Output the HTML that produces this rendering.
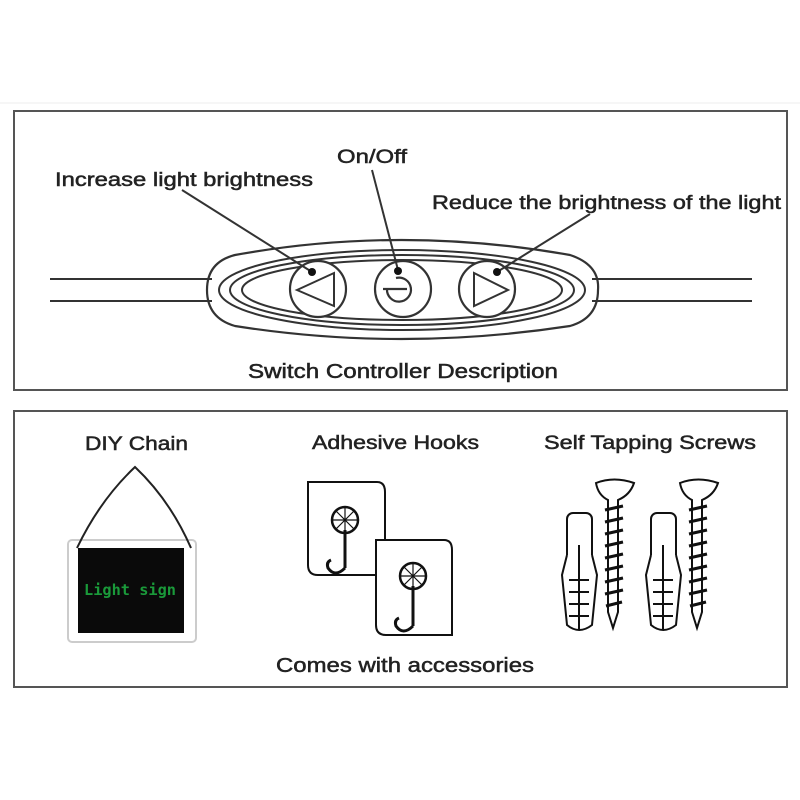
<!DOCTYPE html>
<html><head><meta charset="utf-8"><style>
html,body{margin:0;padding:0;background:#fff;}
svg{display:block}
text{font-family:"Liberation Sans",sans-serif;fill:#222;stroke:#222;stroke-width:0.5;}
</style></head><body>
<svg width="800" height="800" viewBox="0 0 800 800" xmlns="http://www.w3.org/2000/svg">
<rect x="0" y="0" width="800" height="800" fill="#fff"/>
<line x1="0" y1="103" x2="800" y2="103" stroke="#eee" stroke-width="1"/>
<rect x="14" y="111" width="773" height="279" fill="none" stroke="#555" stroke-width="2"/>
<g stroke="#333" stroke-width="2" fill="none">
<line x1="50" y1="279" x2="212" y2="279"/>
<line x1="50" y1="301" x2="212" y2="301"/>
<line x1="592" y1="279" x2="752" y2="279"/>
<line x1="592" y1="301" x2="752" y2="301"/>
<path d="M235,255 Q400,225 570,255 Q600,265 598,290 Q598,318 570,326 Q400,352 235,326 Q207,318 207,290 Q207,262 235,255 Z" stroke-width="2.2"/>
<ellipse cx="402" cy="290" rx="183" ry="40" stroke-width="2"/>
<ellipse cx="402" cy="290" rx="172" ry="35" stroke-width="2"/>
<ellipse cx="402" cy="290" rx="160" ry="30" stroke-width="2"/>
<circle cx="318" cy="289" r="28" fill="#fff" stroke-width="2.2"/>
<circle cx="403" cy="289" r="28" fill="#fff" stroke-width="2.2"/>
<circle cx="487" cy="289" r="28" fill="#fff" stroke-width="2.2"/>
<polygon points="297,290 334,273 334,306" stroke-width="2"/>
<polygon points="474,273 474,306 508,290" stroke-width="2"/>
<path d="M396,278 A12,12 0 1 1 387,289" stroke-width="2.2"/>
<line x1="383" y1="289" x2="407" y2="289" stroke-width="2.2"/>
<line x1="182" y1="190" x2="312" y2="272" stroke-width="2"/>
<line x1="372" y1="170" x2="398" y2="270" stroke-width="2"/>
<line x1="590" y1="214" x2="497" y2="272" stroke-width="2"/>
</g>
<circle cx="312" cy="272" r="4" fill="#111"/>
<circle cx="398" cy="271" r="4" fill="#111"/>
<circle cx="497" cy="272" r="4" fill="#111"/>
<text x="55" y="186" font-size="19" textLength="258" lengthAdjust="spacingAndGlyphs">Increase light brightness</text>
<text x="337" y="163" font-size="19" textLength="70" lengthAdjust="spacingAndGlyphs">On/Off</text>
<text x="432" y="209" font-size="19" textLength="349" lengthAdjust="spacingAndGlyphs">Reduce the brightness of the light</text>
<text x="248" y="378" font-size="20" textLength="310" lengthAdjust="spacingAndGlyphs">Switch Controller Description</text>
<rect x="14" y="411" width="773" height="276" fill="none" stroke="#555" stroke-width="2"/>
<text x="85" y="450" font-size="19" textLength="103" lengthAdjust="spacingAndGlyphs">DIY Chain</text>
<text x="312" y="449" font-size="19" textLength="167" lengthAdjust="spacingAndGlyphs">Adhesive Hooks</text>
<text x="544" y="449" font-size="19" textLength="212" lengthAdjust="spacingAndGlyphs">Self Tapping Screws</text>
<text x="276" y="672" font-size="20" textLength="258" lengthAdjust="spacingAndGlyphs">Comes with accessories</text>
<rect x="68" y="540" width="128" height="102" rx="4" fill="none" stroke="#ccc" stroke-width="2"/>
<rect x="78" y="548" width="106" height="85" fill="#0a0a0a"/>
<path d="M77,548 Q100,500 135,467 Q170,500 191,548" fill="none" stroke="#222" stroke-width="2"/>
<text x="84" y="595" font-size="15" font-weight="bold" style="fill:#1a9a3a;stroke:none;font-family:'DejaVu Sans Mono','Liberation Mono',monospace" textLength="92" lengthAdjust="spacingAndGlyphs">Light  sign</text>
<g fill="#fff" stroke="#111" stroke-width="2">
<path d="M308,482 H377 Q385,482 385,492 V575 H318 Q308,575 308,565 Z"/>
<circle cx="345" cy="520" r="13" fill="none" stroke-width="2.5"/>
<path d="M345,507 V533 M332,520 H358 M336,511 L354,529 M354,511 L336,529" fill="none" stroke-width="1.2"/>
<path d="M345,530 V568 M345,568 Q335,578 328,568 Q326,562 331,560" fill="none" stroke-width="3"/>
<path d="M376,540 H444 Q452,540 452,550 V635 H386 Q376,635 376,625 Z"/>
<circle cx="413" cy="576" r="13" fill="none" stroke-width="2.5"/>
<path d="M413,563 V589 M400,576 H426 M404,567 L422,585 M422,567 L404,585" fill="none" stroke-width="1.2"/>
<path d="M413,586 V626 M413,626 Q403,636 396,626 Q394,620 399,618" fill="none" stroke-width="3"/>
</g>
<g stroke="#111" stroke-width="2" fill="#fff">
<g id="s1">
<rect x="567" y="513" width="25" height="50" rx="6"/>
<path d="M567,555 L562,575 L567,625 Q579,635 592,625 L597,575 L592,555" />
<line x1="579" y1="545" x2="579" y2="630"/>
<path d="M569,580 h20 M569,592 h20 M569,604 h20 M569,616 h20"/>
<path d="M596,483 Q614,476 634,483 Q630,495 618,500 V612 L613,628 L608,612 V500 Q598,495 596,483 Z"/>
<path d="M605,510 l18,-4 M605,522 l18,-4 M605,534 l18,-4 M605,546 l18,-4 M605,558 l18,-4 M605,570 l18,-4 M605,582 l18,-4 M605,594 l18,-4 M606,606 l16,-4" fill="none" stroke-width="3"/>
</g>
<use href="#s1" x="84"/>
</g>
</svg>
</body></html>
